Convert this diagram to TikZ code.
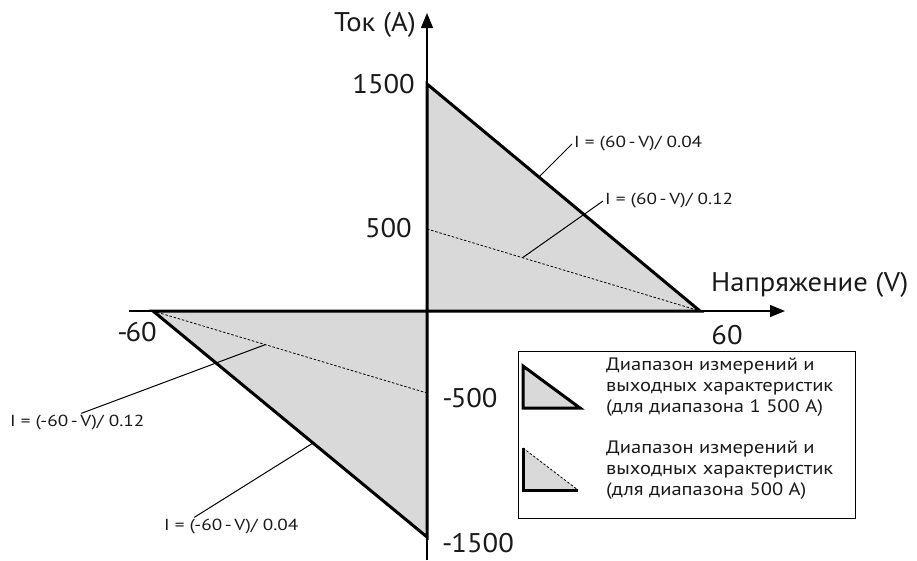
\documentclass[tikz,border=0pt]{standalone}
\usepackage{fontspec}
\setmainfont{PT Sans}
\newfontfamily\bigfont[FakeStretch=1.06]{PT Sans}
\newfontfamily\formfont[FakeStretch=1.2]{PT Sans}
\newfontfamily\legfont[FakeStretch=1.14]{PT Sans}
\usetikzlibrary{arrows.meta,calc}
\definecolor{areagrey}{HTML}{D9D9D9}
\definecolor{txt}{HTML}{1A1A1A}
\begin{document}
\begin{tikzpicture}[x=1pt,y=-1pt,
  axisline/.style={line width=1.3pt,-{Triangle[length=15pt,width=12pt]}},
  thickline/.style={line width=3pt},
  dashline/.style={line width=0.8pt,dash pattern=on 2.5pt off 1.8pt},
  leader/.style={line width=1pt},
  biglabel/.style={font=\bigfont\fontsize{27}{30}\selectfont,text=txt,inner sep=1pt},
  formula/.style={font=\formfont\fontsize{16}{18}\selectfont,text=txt,inner sep=2pt},
  legtext/.style={font=\legfont\fontsize{18}{21}\selectfont,text=txt,align=left,inner sep=0pt}]
\useasboundingbox (0,0) rectangle (917,560);
% key points
\coordinate (O) at (427,311);
\coordinate (T) at (427,84);
\coordinate (R) at (700,311);
\coordinate (M) at (427,229);
\coordinate (L) at (153,311);
\coordinate (B) at (427,537);
\coordinate (N) at (427,393);
\coordinate (ytop) at (427,13);
\coordinate (ybot) at (427,560);
\coordinate (xleft) at (129,311);
\coordinate (xright) at (785,311);
% areas
\fill[areagrey] (T) -- (R) -- (O) -- cycle;
\fill[areagrey] (L) -- (O) -- (B) -- cycle;
% axes
\draw[axisline] (ybot) -- (ytop);
\draw[axisline] (xleft) -- (xright);
% thick boundaries
\draw[thickline] (R) -- (T) -- (B) -- (L) -- cycle;
% dashed 500 A lines
\draw[dashline] (M) -- (R);
\draw[dashline] (L) -- (N);
% axis labels
\node[biglabel,anchor=east] (ylab) at (417,25) {Ток (A)};
\node[biglabel,anchor=west] (xlab) at (710,285) {Напряжение (V)};
\node[biglabel,anchor=east] (l1500) at (416,84) {1500};
\node[biglabel,anchor=east] (l500) at (413,228) {500};
\node[biglabel] (l60) at (727,335) {60};
\node[biglabel] (lm60) at (137,332) {-\kern-2pt60};
\node[biglabel] (lm500) at (470,398) {-\kern-2pt500};
\node[biglabel] (lm1500) at (478,543) {-\kern-1pt1500};
% formulas
\node[formula,anchor=west] (f1) at (572,144) {I = (60\,-\,V)/ 0.04};
\node[formula,anchor=west] (f2) at (603,201) {I = (60\,-\,V)/ 0.12};
\node[formula,anchor=west] (f3) at (8,423) {I = (-60\,-\,V)/ 0.12};
\node[formula,anchor=west] (f4) at (162,527) {I = (-60\,-\,V)/ 0.04};
\draw[leader] ([xshift=4pt]f3.north) -- ($(L)!0.41!(N)$);
\draw[leader] (f1.west) -- ($(T)!0.41!(R)$);
\draw[leader] (f2.west) -- ($(M)!0.35!(R)$);
\draw[leader] ([xshift=-37pt]f4.north) -- ($(L)!0.584!(B)$);
% legend
\node[draw,line width=1pt,minimum width=337pt,minimum height=167pt,anchor=north west,inner sep=0pt] (leg) at (518,351) {};
\coordinate (a1) at (523,366);
\coordinate (a2) at (523,408);
\coordinate (a3) at (580,408);
\fill[areagrey] (a1) -- (a2) -- (a3) -- cycle;
\draw[thickline] (a1) -- (a2) -- (a3) -- cycle;
\coordinate (b1) at (523,448);
\coordinate (b2) at (523,490);
\coordinate (b3) at (578,490);
\fill[areagrey] (b1) -- (b2) -- (b3) -- cycle;
\draw[thickline] (b1) -- (b2) -- (b3);
\draw[dashline] (b1) -- (b3);
\node[legtext,anchor=north west] (lt1) at (606,358) {Диапазон измерений и\\выходных характеристик\\(для диапазона 1 500 A)};
\node[legtext,anchor=north west] (lt2) at (606,441) {Диапазон измерений и\\выходных характеристик\\(для диапазона 500 A)};
\end{tikzpicture}
\end{document}
